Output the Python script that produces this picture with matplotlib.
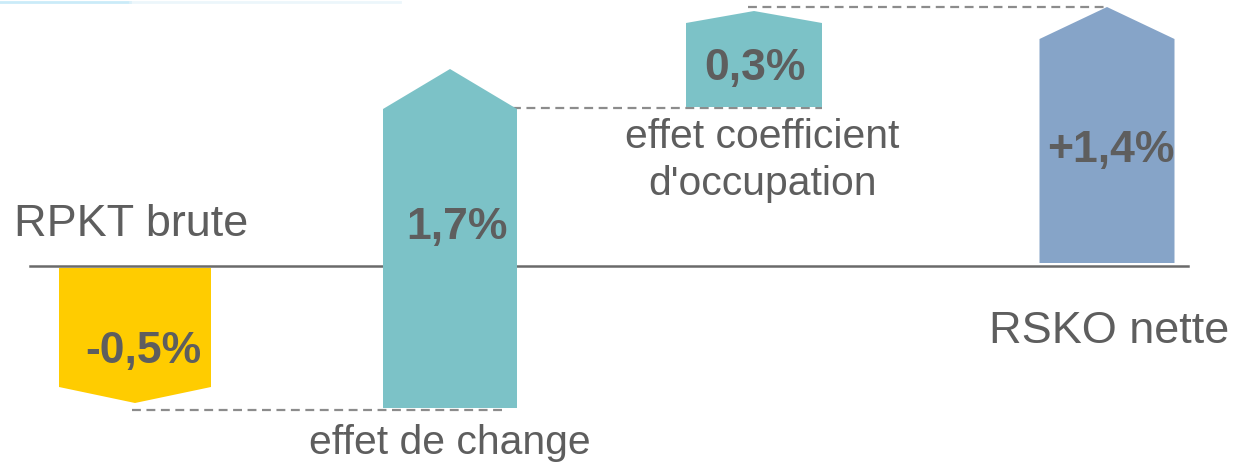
import matplotlib
matplotlib.use('Agg')
from matplotlib import pyplot as plt
from matplotlib.patches import Polygon

# schematic waterfall: levels in chart units (baseline = 0), not to scale
steps = ['RPKT brute', 'effet de change', "effet coefficient\nd'occupation", 'RSKO nette']
labels = ['-0,5%', '1,7%', '0,3%', '+1,4%']
level_from = [-2, -142, 159, 3]
level_to = [-137, 197, 255, 259]

# drawing settings
xc = [135, 450, 754, 1107]
widths = [152, 134, 136, 135]
heads = [16, 40, 12, 32]
colors = ['#FFCC00', '#7CC2C7', '#7CC2C7', '#86A4C8']
grey = '#5E5E5E'

plt.rcParams['font.family'] = ['Liberation Sans', 'DejaVu Sans']

fig = plt.figure(figsize=(12.38, 4.66), dpi=100)
ax = fig.add_axes([0, 0, 1, 1])
ax.set_xlim(0, 1238)
ax.set_ylim(-200, 266)
ax.axis('off')

# baseline
ax.plot([30, 1188], [0, 0], color='#6A6A6A', lw=1.8, zorder=1)

for i in range(len(labels)):
    x0 = xc[i] - widths[i] / 2
    x1 = xc[i] + widths[i] / 2
    a, b = level_from[i], level_to[i]
    d = 1 if b > a else -1
    shoulder = b - d * heads[i]
    pts = [(x0, a), (x1, a), (x1, shoulder), (xc[i], b), (x0, shoulder)]
    ax.add_patch(Polygon(pts, closed=True, facecolor=colors[i], edgecolor='none', zorder=2))

# dashed connectors between the arrows
conn = [(132, 502, -144), (512, 822, 158), (748, 1106, 259)]
for xa, xb, y in conn:
    ax.plot([xa, xb], [y, y], color='#8C8C8C', lw=1.6, dashes=(4, 2.5), zorder=1)

# value labels
val_pos = [(143, -97), (457, 27), (755, 186), (1111, 104)]
for (x, y), t in zip(val_pos, labels):
    ax.text(x, y, t, ha='center', va='baseline', fontsize=32, fontweight='bold',
            color=grey, zorder=3)

# step names
ax.text(14, 30, steps[0], ha='left', va='baseline', fontsize=32.4, color=grey)
ax.text(450, -188, steps[1], ha='center', va='baseline', fontsize=29.4, color=grey)
name2 = steps[2].split('\n')
ax.text(762, 118, name2[0], ha='center', va='baseline', fontsize=29.4, color=grey)
ax.text(762, 71, name2[1], ha='center', va='baseline', fontsize=29.4, color=grey)
ax.text(989, -77, steps[3], ha='left', va='baseline', fontsize=32.4, color=grey)

# faint line at the top edge of the slide
ax.plot([0, 130], [264.5, 264.5], color='#BDE6F7', lw=2, alpha=0.8)
ax.plot([130, 400], [264.5, 264.5], color='#E4F3FA', lw=2, alpha=0.7)

fig.savefig('out.png', dpi=100)
